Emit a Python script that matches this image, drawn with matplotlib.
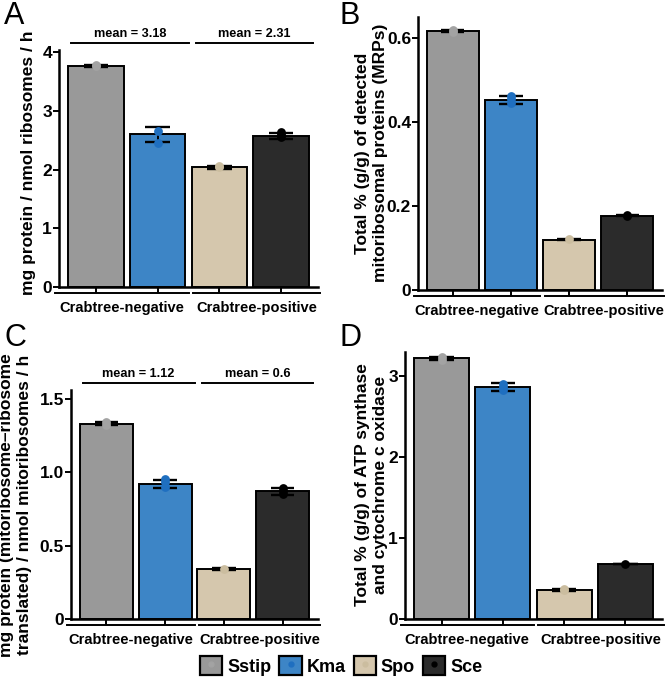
import matplotlib
matplotlib.use("Agg")
import matplotlib.pyplot as plt
import matplotlib.transforms as mtransforms
from matplotlib.patches import Patch
from matplotlib.lines import Line2D
from matplotlib.legend_handler import HandlerTuple

plt.rcParams['font.family'] = ['Liberation Sans', 'DejaVu Sans']
plt.rcParams['font.weight'] = 'bold'

W, H = 672, 685

species = ["Sstip", "Kma", "Spo", "Sce"]
bar_colors = ["#999999", "#3d85c6", "#d5c7ad", "#2b2b2b"]
point_colors = ["#a3a3a3", "#1f6fc0", "#cbbd9f", "#000000"]
groups = ["Crabtree-negative", "Crabtree-positive"]

# panel A: mg protein / nmol ribosomes / h
a_mean = [3.77, 2.60, 2.04, 2.58]
a_sd = [0.02, 0.12, 0.02, 0.05]
a_pts = [[3.77, 3.78], [2.66, 2.46], [2.04, 2.06], [2.55, 2.60, 2.64]]
a_group_mean = ["mean = 3.18", "mean = 2.31"]

# panel B: % MRPs
b_mean = [0.617, 0.453, 0.120, 0.177]
b_sd = [0.003, 0.009, 0.001, 0.002]
b_pts = [[0.615, 0.620], [0.445, 0.455, 0.462], [0.121], [0.175, 0.179]]

# panel C: per mitoribosome
c_mean = [1.33, 0.92, 0.34, 0.87]
c_sd = [0.01, 0.03, 0.005, 0.025]
c_pts = [[1.32, 1.34], [0.90, 0.93, 0.955], [0.34], [0.85, 0.87, 0.89]]
c_group_mean = ["mean = 1.12", "mean = 0.6"]

# panel D: % ATP synthase + COX
d_mean = [3.22, 2.87, 0.36, 0.68]
d_sd = [0.02, 0.05, 0.01, 0.005]
d_pts = [[3.20, 3.24], [2.83, 2.87, 2.91], [0.36, 0.37], [0.68]]

fig = plt.figure(figsize=(W / 100, H / 100), dpi=100)


def add_axes_px(left, top, right, bottom):
    ax = fig.add_axes([left / W, 1 - bottom / H, (right - left) / W, (bottom - top) / H])
    ax._px = (left, top, right, bottom)
    return ax


def yfrac(ax, ypx):
    left, top, right, bottom = ax._px
    return (bottom - ypx) / (bottom - top)


def draw_panel(ax, means, sds, pts, ylim, yticks, yticklabels, group_mean=None):
    x = [1, 2, 3, 4]
    ax.bar(x, means, width=0.9, color=bar_colors, edgecolor="black", linewidth=1.4, zorder=2)
    for xi, m, s in zip(x, means, sds):
        ax.plot([xi, xi], [m - s, m + s], color="black", lw=1.4, zorder=3)
        ax.hlines([m - s, m + s], xi - 0.2, xi + 0.2, color="black", lw=1.7, zorder=3)
    for xi, p, c in zip(x, pts, point_colors):
        ax.scatter([xi] * len(p), p, s=40, color=c, zorder=4, linewidths=0)
    ax.set_xlim(0.4, 4.6)
    ax.set_ylim(*ylim)
    ax.set_yticks(yticks)
    ax.set_yticklabels(yticklabels)
    ax.set_xticks(x)
    ax.set_xticklabels([])
    for s in ["top", "right"]:
        ax.spines[s].set_visible(False)
    for s in ["left", "bottom"]:
        ax.spines[s].set_linewidth(1.8)
    ax.tick_params(length=4, width=1.4, labelsize=12.5, pad=1)

    left, top, right, bottom = ax._px
    trans = mtransforms.blended_transform_factory(ax.transData, ax.transAxes)
    # group lines and labels below the axis
    yl = yfrac(ax, bottom + 6)
    yt = yfrac(ax, bottom + 21)
    for (x0, x1), g in zip([(0.33, 2.5), (2.58, 4.63)], groups):
        ax.plot([x0, x1], [yl, yl], transform=trans, color="black", lw=1.4, clip_on=False)
        ax.text((x0 + x1) / 2, yt, g, transform=trans, ha="center", va="center",
                fontsize=10.5, fontweight="bold")
    if group_mean is not None:
        ml = yfrac(ax, top - 7)
        mt = yfrac(ax, top - 16)
        for (x0, x1), g in zip([(0.6, 2.5), (2.62, 4.52)], group_mean):
            ax.plot([x0, x1], [ml, ml], transform=trans, color="black", lw=1.4, clip_on=False)
            ax.text((x0 + x1) / 2, mt, g, transform=trans, ha="center", va="center",
                    fontsize=9.2, fontweight="bold")


axA = add_axes_px(59, 50, 318, 287)
draw_panel(axA, a_mean, a_sd, a_pts, (0, 4.04), [0, 1, 2, 3, 4], ["0", "1", "2", "3", "4"], a_group_mean)

axB = add_axes_px(418, 17, 662, 290)
draw_panel(axB, b_mean, b_sd, b_pts, (0, 0.65), [0, 0.2, 0.4, 0.6], ["0", "0.2", "0.4", "0.6"])

axC = add_axes_px(71, 390, 318, 619)
draw_panel(axC, c_mean, c_sd, c_pts, (0, 1.56), [0, 0.5, 1.0, 1.5], ["0", "0.5", "1.0", "1.5"], c_group_mean)

axD = add_axes_px(405, 352, 662, 619)
draw_panel(axD, d_mean, d_sd, d_pts, (0, 3.3), [0, 1, 2, 3], ["0", "1", "2", "3"])

# y labels, one text per line
ylab_kw = dict(rotation=90, ha="center", va="center", fontsize=12.5, fontweight="bold")
ylabels = [
    (29, 163, "mg protein / nmol ribosomes / h"),
    (362, 153, "Total % (g/g) of detected"),
    (380, 153, "mitoribosomal proteins (MRPs)"),
    (7, 505, "mg protein (mitoribosome\u2013ribosome"),
    (25, 505, "translated) / nmol mitoribosomes / h"),
    (362, 485, "Total % (g/g) of ATP synthase"),
    (380, 485, "and cytochrome c oxidase"),
]
for xp, yp, t in ylabels:
    fig.text(xp / W, 1 - yp / H, t, **ylab_kw)

# panel letters
for lab, xp, yp in [("A", 4, 1), ("B", 340, 1), ("C", 4, 323), ("D", 340, 323)]:
    fig.text(xp / W, 1 - yp / H, lab, ha="left", va="top", fontsize=22, fontweight="normal")

# legend
handles = [(Patch(facecolor=bc, edgecolor="black", linewidth=1.6),
            Line2D([], [], marker="o", linestyle="none", markersize=3.5, color=pc))
           for bc, pc in zip(bar_colors, point_colors)]
fig.legend(handles, species, loc="center", bbox_to_anchor=(341 / W, 1 - 666 / H), ncol=4,
           frameon=False, fontsize=13, handlelength=1.25, handleheight=1.25,
           handletextpad=0.25, columnspacing=0.45, borderpad=0,
           handler_map={tuple: HandlerTuple(ndivide=1)})

fig.savefig("out.png", dpi=100)
